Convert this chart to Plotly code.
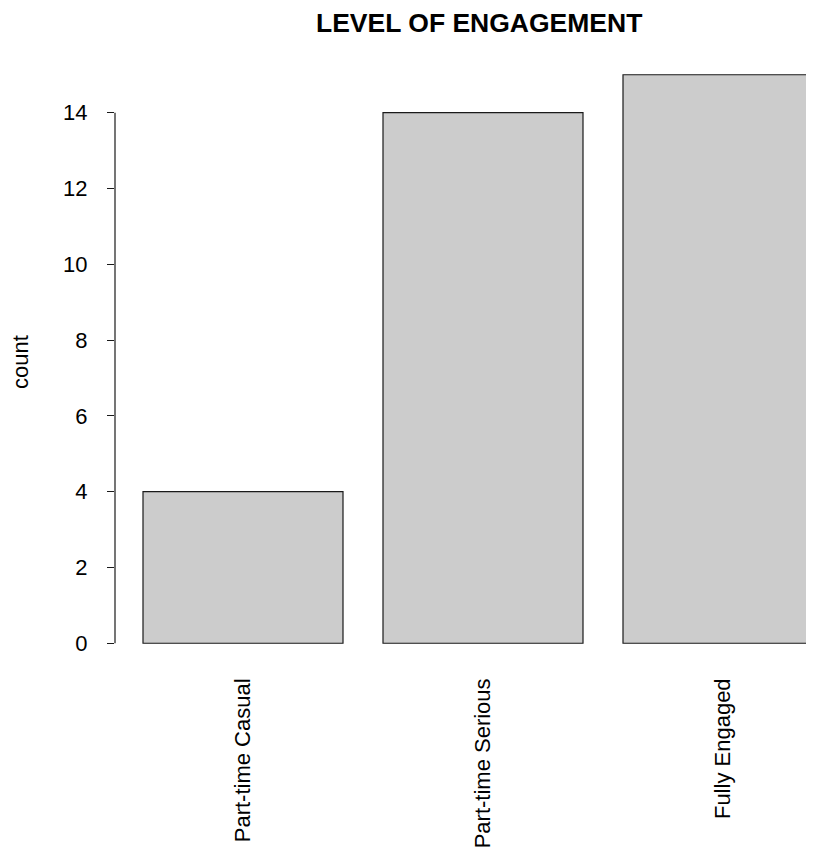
import plotly.graph_objects as go

categories = ["Part-time Casual", "Part-time Serious", "Fully Engaged"]
counts = [4, 14, 15]
bar_positions = [0.7, 1.9, 3.1]
y_ticks = [0, 2, 4, 6, 8, 10, 12, 14]

FONT = "Liberation Sans, Arial, Helvetica, sans-serif"

# page renders the figure with an 8px body margin, so coordinates are shifted by -8
W, H = 806, 848
L, T, B = 107, 44, 190
plot_w = W - L
plot_h = H - T - B

fig = go.Figure()
fig.add_trace(go.Bar(
    x=bar_positions, y=counts, width=1,
    marker=dict(color="#CCCCCC", line=dict(color="#1a1a1a", width=1.2)),
    showlegend=False, hoverinfo="skip",
))

fig.update_layout(
    width=W, height=H,
    margin=dict(l=L, r=0, t=T, b=B, pad=0),
    paper_bgcolor="white", plot_bgcolor="white",
    font=dict(family=FONT, size=22, color="black"),
    xaxis=dict(
        range=[0.06, 3.555], tickmode="array", tickvals=bar_positions,
        ticktext=categories, tickangle=-90, showgrid=False, zeroline=False,
        showline=False, ticks="", ticklabelstandoff=7,
        tickfont=dict(size=22, family=FONT, color="black"),
    ),
    yaxis=dict(
        range=[-0.6, 15.6], tickmode="array", tickvals=y_ticks,
        ticktext=[str(v) for v in y_ticks],
        showgrid=False, zeroline=False, showline=False,
        ticks="outside", ticklen=7, tickwidth=1.2, tickcolor="#1a1a1a",
        ticklabelstandoff=15,
        tickfont=dict(size=22, family=FONT, color="black"),
    ),
    shapes=[dict(type="line", xref="paper", yref="y", x0=0, x1=0, y0=0, y1=14,
                 line=dict(color="#1a1a1a", width=1.2))],
    annotations=[
        dict(text="LEVEL OF ENGAGEMENT", xref="paper", yref="paper",
             x=(479 - 8 - L) / plot_w, y=1 + (T - (22.5 - 8)) / plot_h,
             xanchor="center", yanchor="middle",
             showarrow=False, font=dict(family=FONT, size=26.5, color="black", weight=700)),
        dict(text="count", xref="paper", yref="paper",
             x=(20 - 8 - L) / plot_w, y=0.5 - 3 / plot_h, xanchor="center", yanchor="middle",
             textangle=-90, showarrow=False,
             font=dict(family=FONT, size=22, color="black")),
    ],
)

fig.write_html("out.html")
